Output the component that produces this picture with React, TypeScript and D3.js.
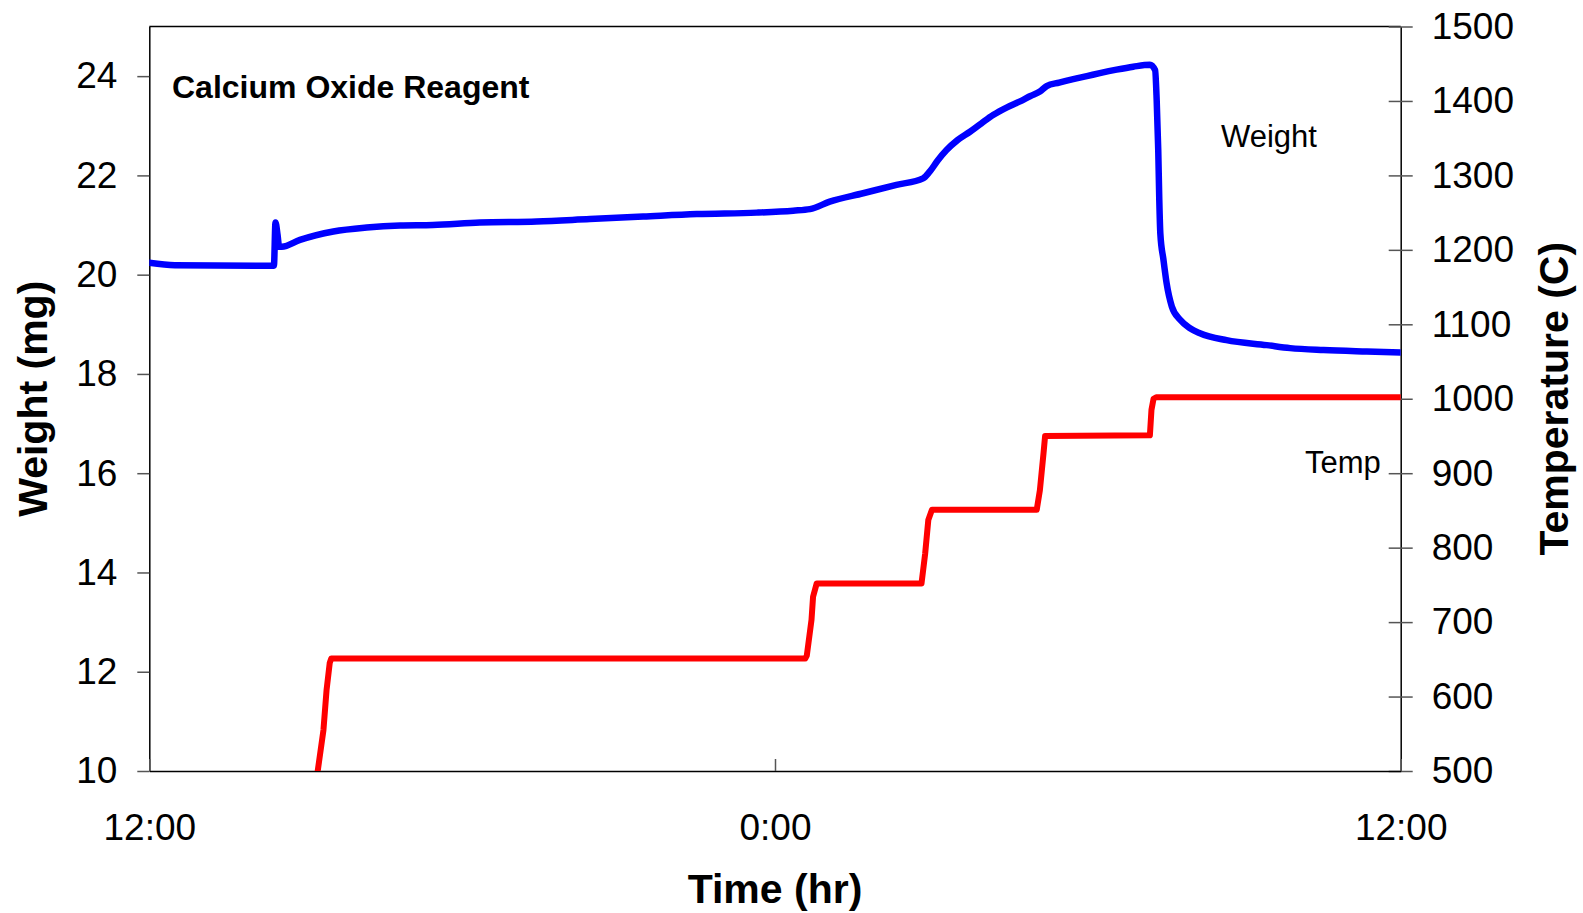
import React, { useEffect, useRef } from 'react';
import * as d3 from 'd3';

// time is in hours since the 12:00 start of the run
const weightHours = [
  0, 0.49, 2.39, 2.42, 2.46, 2.49, 2.54, 2.89, 3.53, 4.17, 4.81, 5.44, 6.34, 7.43, 8.45, 9.47,
  10.5, 11.65, 12.35, 12.67, 13.05, 13.69, 14.33, 14.84, 14.97, 15.12, 15.29, 15.5, 15.74, 15.96,
  16.19, 16.45, 16.7, 16.9, 17.08, 17.21, 17.45, 17.72, 17.98, 18.23, 18.55, 18.87, 19.19, 19.29,
  19.32, 19.35, 19.37, 19.39, 19.45, 19.51, 19.61, 19.77, 19.96, 20.15, 20.66, 21.43, 21.88, 22.52,
  23.35, 24,
];
const weightMg = [
  20.24, 20.19, 20.18, 21.05, 20.8, 20.56, 20.56, 20.7, 20.87, 20.95, 20.99, 21.0, 21.05, 21.07, 21.12, 21.17,
  21.22, 21.25, 21.29, 21.32, 21.47, 21.64, 21.81, 21.94, 22.08, 22.3, 22.51, 22.71, 22.88, 23.05,
  23.22, 23.37, 23.49, 23.6, 23.69, 23.8, 23.87, 23.94, 24.0, 24.06, 24.13, 24.19, 24.23, 24.12,
  23.52, 22.51, 21.51, 20.83, 20.3, 19.83, 19.36, 19.09, 18.92, 18.82, 18.68, 18.58, 18.52, 18.48,
  18.45, 18.43,
];

const tempHours = [
  3.2, 3.23, 3.34, 3.4, 3.46, 3.49, 12.58, 12.61, 12.7, 12.73, 12.8, 14.81, 14.88, 14.94, 15.01,
  17.02, 17.08, 17.15, 17.18, 19.19, 19.22, 19.26, 19.31, 24,
];
const tempC = [
  480, 500, 555, 609, 645, 651, 651, 655, 703, 734, 752, 752, 792, 837, 851,
  851, 877, 927, 950, 951, 985, 1000, 1002, 1002,
];

const weightTicks = [10, 12, 14, 16, 18, 20, 22, 24];
const tempTicks = [500, 600, 700, 800, 900, 1000, 1100, 1200, 1300, 1400, 1500];
const timeTicks = [0, 12, 24];
const timeLabels = ['12:00', '0:00', '12:00'];

const W = 1583;
const H = 913;
const FONT = '"Liberation Sans", Arial, sans-serif';

const App: React.FC = () => {
  const svgRef = useRef<SVGSVGElement>(null);

  useEffect(() => {
    if (!svgRef.current) return;
    const svg = d3.select(svgRef.current);
    svg.selectAll('*').remove();

    const left = 149.3, right = 1400.7, top = 26.5, bottom = 771;

    const x = d3.scaleLinear().domain([0, 24]).range([left, right]);
    const yW = d3.scaleLinear().domain([10, 25]).range([bottom, top]);
    const yT = d3.scaleLinear().domain([500, 1500]).range([bottom, top]);

    svg.append('defs').append('clipPath').attr('id', 'plot-clip')
      .append('rect')
      .attr('x', left).attr('y', top)
      .attr('width', right - left).attr('height', bottom - top);

    // top border of the plot area
    svg.append('line')
      .attr('x1', left).attr('x2', right)
      .attr('y1', top).attr('y2', top)
      .attr('stroke', '#000').attr('stroke-width', 1.5);

    // left axis (weight)
    const gl = svg.append('g')
      .attr('transform', `translate(${left},0)`)
      .call(d3.axisLeft(yW).tickValues(weightTicks).tickSizeInner(12).tickSizeOuter(0).tickPadding(20));
    gl.select('.domain').attr('stroke', '#000').attr('stroke-width', 1.5);
    gl.selectAll('.tick line').attr('stroke', '#555').attr('stroke-width', 1.5);
    gl.selectAll('.tick text').attr('font-size', 37).attr('font-family', FONT).attr('fill', '#000');

    // right axis (temperature), ticks cross the axis
    const gr = svg.append('g')
      .attr('transform', `translate(${right},0)`)
      .call(d3.axisRight(yT).tickValues(tempTicks).tickFormat(d3.format('d'))
        .tickSizeInner(12).tickSizeOuter(0).tickPadding(19));
    gr.select('.domain').attr('stroke', '#000').attr('stroke-width', 1.5);
    gr.selectAll('.tick line').attr('x1', -12).attr('stroke', '#555').attr('stroke-width', 1.5);
    gr.selectAll('.tick text').attr('font-size', 37).attr('font-family', FONT).attr('fill', '#000');

    // bottom axis (time), ticks point inward
    const gb = svg.append('g')
      .attr('transform', `translate(0,${bottom})`)
      .call(d3.axisBottom(x).tickValues(timeTicks).tickSizeInner(-12).tickSizeOuter(0).tickPadding(43)
        .tickFormat((d, i) => timeLabels[i]));
    gb.select('.domain').attr('stroke', '#000').attr('stroke-width', 1.5);
    gb.selectAll('.tick line').attr('stroke', '#555').attr('stroke-width', 1.5);
    gb.selectAll('.tick text').attr('font-size', 37).attr('font-family', FONT).attr('fill', '#000');

    // series
    const plot = svg.append('g').attr('clip-path', 'url(#plot-clip)');

    const weightLine = d3.line<number>()
      .x((_, i) => x(weightHours[i]))
      .y(d => yW(d))
      .curve(d3.curveMonotoneX);
    plot.append('path')
      .datum(weightMg)
      .attr('d', weightLine)
      .attr('fill', 'none')
      .attr('stroke', '#0000ff')
      .attr('stroke-width', 6.5)
      .attr('stroke-linejoin', 'round')
      .attr('stroke-linecap', 'round');

    const tempLine = d3.line<number>()
      .x((_, i) => x(tempHours[i]))
      .y(d => yT(d));
    plot.append('path')
      .datum(tempC)
      .attr('d', tempLine)
      .attr('fill', 'none')
      .attr('stroke', '#ff0000')
      .attr('stroke-width', 6)
      .attr('stroke-linejoin', 'round')
      .attr('stroke-linecap', 'round');

    // annotations
    const txt = (s: string, tx: number, ty: number, size: number, bold: boolean) =>
      svg.append('text')
        .attr('x', tx).attr('y', ty)
        .attr('font-family', FONT)
        .attr('font-size', size)
        .attr('font-weight', bold ? 'bold' : 'normal')
        .attr('fill', '#000')
        .text(s);

    txt('Calcium Oxide Reagent', 172, 98, 32, true);
    txt('Weight', 1221, 147, 31, false);
    txt('Temp', 1305, 473, 31, false);

    // axis titles
    txt('Time (hr)', (left + right) / 2, 903, 41, true).attr('text-anchor', 'middle');
    svg.append('text')
      .attr('transform', `translate(47,${(top + bottom) / 2}) rotate(-90)`)
      .attr('text-anchor', 'middle')
      .attr('font-family', FONT).attr('font-size', 41).attr('font-weight', 'bold')
      .text('Weight (mg)');
    svg.append('text')
      .attr('transform', `translate(1568,${(top + bottom) / 2}) rotate(-90)`)
      .attr('text-anchor', 'middle')
      .attr('font-family', FONT).attr('font-size', 41).attr('font-weight', 'bold')
      .text('Temperature (C)');
  }, []);

  return (
    <svg
      ref={svgRef}
      width={W}
      height={H}
      style={{ position: 'absolute', left: 0, top: 0, display: 'block', background: '#fff' }}
    />
  );
};

export default App;
